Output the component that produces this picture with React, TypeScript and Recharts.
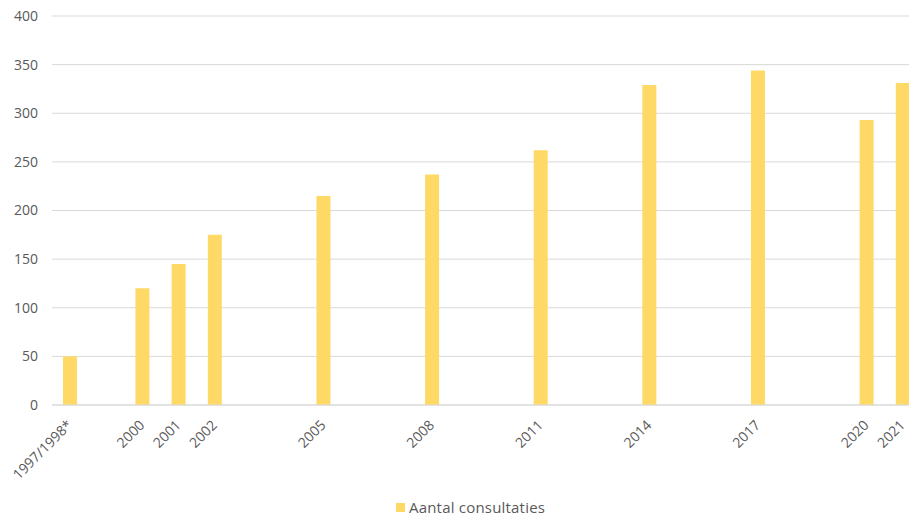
import React from 'react'
import { BarChart, Bar, XAxis, YAxis, CartesianGrid, Legend } from 'recharts'

// Aantal consultaties per jaar. De x-as is een getallen-as zodat de jaren op
// hun echte afstand staan (gaten tussen 2002, 2005, 2008, ...).
const labels = ['1997/1998*', '2000', '2001', '2002', '2005', '2008', '2011', '2014', '2017', '2020', '2021']
const jaren = [1998, 2000, 2001, 2002, 2005, 2008, 2011, 2014, 2017, 2020, 2021]
const consultaties = [50, 120, 145, 175, 215, 237, 262, 329, 344, 293, 331]
const yTicks = [0, 50, 100, 150, 200, 250, 300, 350, 400]

const data = jaren.map((jaar, i) => ({ jaar, label: labels[i], consultaties: consultaties[i] }))

const FONT = '"Open Sans", sans-serif'
const GRIJS = '#595959'
const GOUD = '#FFD966'

function XTick({ x, y, payload }: { x?: number; y?: number; payload?: { value: number } }) {
  const i = jaren.indexOf(payload?.value ?? -1)
  const tx = (x ?? 0) + 3
  const ty = (y ?? 0) + 13
  return (
    <text x={tx} y={ty} transform={`rotate(-45 ${tx} ${ty})`} textAnchor="end"
      fontSize={14} fontFamily={FONT} fill={GRIJS}>
      {labels[i]}
    </text>
  )
}

function LegendContent() {
  return (
    <div style={{ display: 'flex', alignItems: 'center', fontFamily: FONT, fontSize: 15, letterSpacing: 0.2, color: GRIJS, lineHeight: '20px' }}>
      <span style={{ width: 9, height: 9, background: GOUD, marginRight: 4, display: 'inline-block' }} />
      Aantal consultaties
    </div>
  )
}

export default function App() {
  return (
    <div style={{ position: 'fixed', left: 0, top: 0, width: 909, height: 516, overflow: 'hidden', background: '#fff' }}>
      <BarChart width={921} height={516} data={data} margin={{ top: 16, right: 0, bottom: 0, left: 0 }}>
        <CartesianGrid stroke="#D9D9D9" vertical={false} />
        <XAxis dataKey="jaar" type="number" domain={[1997.5, 2021.5]} ticks={jaren} allowDataOverflow
          height={81} tickLine={false} axisLine={{ stroke: '#D9D9D9' }} tick={<XTick />} interval={0} />
        <YAxis domain={[0, 400]} ticks={yTicks} width={52} tickLine={false} axisLine={false} tickMargin={8}
          tick={{ fontSize: 14, fontFamily: FONT, fill: GRIJS }} />
        <Legend verticalAlign="bottom" content={<LegendContent />}
          wrapperStyle={{ left: 396, width: 170, top: 497, height: 30 }} />
        <Bar dataKey="consultaties" name="Aantal consultaties" fill={GOUD} barSize={14} isAnimationActive={false} />
      </BarChart>
    </div>
  )
}
